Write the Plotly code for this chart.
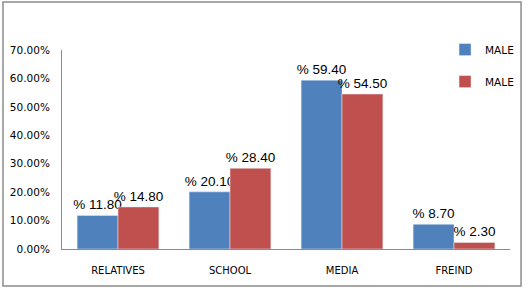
import plotly.graph_objects as go

categories = ["RELATIVES", "SCHOOL", "MEDIA", "FREIND"]
series1_name = "MALE"
series2_name = "MALE"
series1 = [11.80, 20.10, 59.40, 8.70]
series2 = [14.80, 28.40, 54.50, 2.30]

label_font = dict(family="Liberation Sans, Arial", size=13.5, color="black")

fig = go.Figure()
fig.add_trace(go.Bar(
    x=categories, y=[v / 100 for v in series1], name=series1_name,
    marker_color="#4F81BD", legendgroup="a",
    text=[f"% {v:.2f}" for v in series1], textposition="outside",
    textfont=label_font, constraintext="none", cliponaxis=False,
))
fig.add_trace(go.Bar(
    x=categories, y=[v / 100 for v in series2], name=series2_name,
    marker_color="#C0504D", legendgroup="b",
    text=[f"% {v:.2f}" for v in series2], textposition="outside",
    textfont=label_font, constraintext="none", cliponaxis=False,
))

fig.update_layout(
    width=529, height=290,
    margin=dict(l=62, r=19, t=50, b=41, autoexpand=False),
    paper_bgcolor="white", plot_bgcolor="white",
    barmode="group", bargap=0.27, bargroupgap=0,
    showlegend=True,
    legend=dict(x=0.855, y=1.075, xanchor="left", yanchor="top",
                font=dict(family="DejaVu Sans", size=10.5, color="black"),
                tracegroupgap=13, itemwidth=30, bgcolor="rgba(0,0,0,0)"),
    font=dict(family="DejaVu Sans", size=10, color="black"),
    shapes=[dict(type="rect", xref="paper", yref="paper",
                 x0=-0.1317, x1=1.0246, y0=-0.186, y1=1.241,
                 line=dict(color="#8c8c8c", width=1.5), layer="below")],
)
fig.update_yaxes(range=[0, 0.7], dtick=0.1, tickformat=".2%", automargin=False,
                 showgrid=False, showline=True, linecolor="#8c8c8c", linewidth=1,
                 zeroline=False, ticks="", ticklabelstandoff=9,
                 tickfont=dict(family="DejaVu Sans", size=10.5, color="black"))
fig.update_xaxes(showgrid=False, showline=True, linecolor="#8c8c8c", linewidth=1,
                 ticks="", ticklabelstandoff=12, automargin=False,
                 tickfont=dict(family="DejaVu Sans", size=10, color="black"))

fig.write_html("out.html", config={"displayModeBar": False},
               post_script="document.body.style.margin='0';document.body.style.overflow='hidden';")
